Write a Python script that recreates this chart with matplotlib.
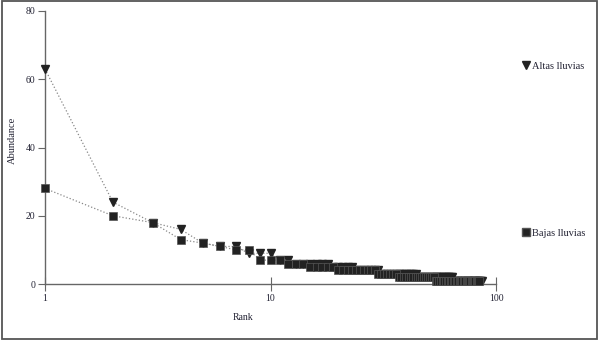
import numpy as np
import matplotlib
matplotlib.use("Agg")
import matplotlib.pyplot as plt
from matplotlib.lines import Line2D
from matplotlib.patches import Rectangle

# abundance by rank
altas_lluvias = [63, 24, 18, 16, 12, 11, 11, 9, 9, 9, 7, 7, 6, 6,
                 6, 6, 6, 6,
                 5, 5, 5, 5, 5,
                 4, 4, 4, 4, 4, 4, 4,
                 3, 3, 3, 3, 3, 3, 3, 3, 3, 3, 3, 3, 3, 3,
                 2, 2, 2, 2, 2, 2, 2, 2, 2, 2, 2, 2, 2, 2, 2, 2, 2, 2, 2, 2,
                 1, 1, 1, 1, 1, 1, 1, 1, 1, 1, 1, 1, 1, 1, 1, 1, 1, 1, 1, 1,
                 1, 1, 1]
bajas_lluvias = [28, 20, 18, 13, 12, 11, 10, 10, 7, 7, 7,
                 6, 6, 6,
                 5, 5, 5, 5, 5,
                 4, 4, 4, 4, 4, 4, 4, 4, 4, 4,
                 3, 3, 3, 3, 3, 3, 3,
                 2, 2, 2, 2, 2, 2, 2, 2, 2, 2, 2, 2, 2, 2, 2, 2, 2,
                 1, 1, 1, 1, 1, 1, 1, 1, 1, 1, 1, 1, 1, 1, 1, 1, 1, 1, 1, 1,
                 1, 1, 1, 1, 1, 1, 1, 1, 1, 1, 1]

rank_altas = np.arange(1, len(altas_lluvias) + 1)
rank_bajas = np.arange(1, len(bajas_lluvias) + 1)

plt.rcParams["font.family"] = ["Liberation Serif", "DejaVu Serif"]
txt_color = "#222233"

fig = plt.figure(figsize=(6.0, 3.41), dpi=100)
ax = fig.add_axes([45 / 600, 57 / 341, 451 / 600, 273 / 341])

mk = "#222222"
ax.plot(rank_altas, altas_lluvias, linestyle=":", color="#888888", lw=0.9,
        marker="v", markersize=5.2, markerfacecolor=mk, markeredgecolor=mk,
        zorder=3, clip_on=False)
ax.plot(rank_bajas, bajas_lluvias, linestyle=":", color="#888888", lw=0.9,
        marker="s", markersize=5.5, markerfacecolor=mk, markeredgecolor="#555555",
        markeredgewidth=0.5, zorder=4, clip_on=False)

ax.set_xscale("log")
ax.set_xlim(1, 100)
ax.set_ylim(0, 80)
ax.set_xticks([1, 10, 100])
ax.set_xticklabels(["1", "10", "100"])
ax.xaxis.set_minor_locator(matplotlib.ticker.NullLocator())
ax.set_yticks([0, 20, 40, 60, 80])

for s in ["top", "right"]:
    ax.spines[s].set_visible(False)
for s in ["left", "bottom"]:
    ax.spines[s].set_color("#666666")
    ax.spines[s].set_linewidth(1.0)

ax.tick_params(axis="x", direction="inout", length=10, width=0.8,
               color="#666666", labelsize=7, labelcolor=txt_color, pad=2)
ax.tick_params(axis="y", direction="out", length=5, width=0.8,
               color="#666666", labelsize=7, labelcolor=txt_color, pad=2)

ax.set_xlabel("Rank", fontsize=7, color=txt_color)
ax.set_ylabel("Abundance", fontsize=7.5, color=txt_color)
ax.xaxis.set_label_coords((243 - 45) / 451, -(313 - 284) / 273)
ax.yaxis.set_label_coords(-(45 - 17) / 451, (284 - 140) / 273)

# legend entries placed to the right of the plot
h_altas = Line2D([], [], linestyle="none", marker="v", markersize=6,
                 markerfacecolor=mk, markeredgecolor=mk)
h_bajas = Line2D([], [], linestyle="none", marker="s", markersize=6,
                 markerfacecolor=mk, markeredgecolor="#555555")
for h, lab, ypix in [(h_altas, "Altas lluvias", 66), (h_bajas, "Bajas lluvias", 233)]:
    fig.legend(handles=[h], labels=[lab], loc="center left",
               bbox_to_anchor=(522 / 600, 1 - ypix / 341), frameon=False,
               fontsize=7.5, handlelength=0.7, handletextpad=0.3,
               borderpad=0, borderaxespad=0, labelcolor=txt_color)

# outer frame of the picture
fig.add_artist(Rectangle((0.004, 0.006), 0.991, 0.99, transform=fig.transFigure,
                         fill=False, edgecolor="#555555", lw=1.3))

fig.savefig("out.png", dpi=100)
